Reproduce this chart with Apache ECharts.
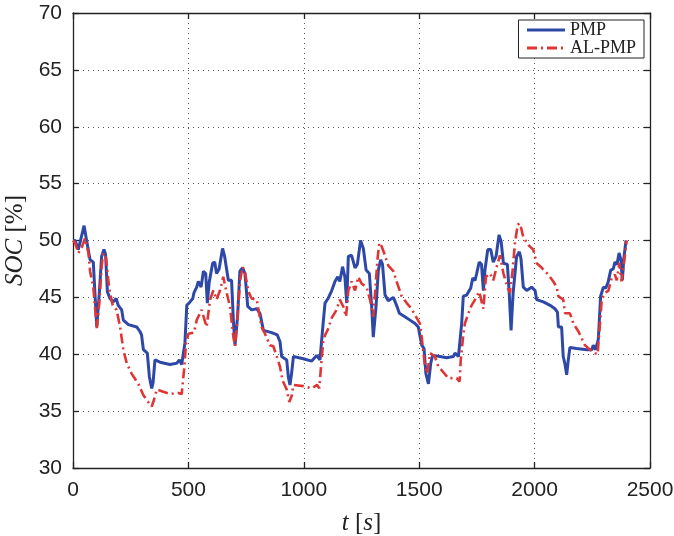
<!DOCTYPE html>
<html><head><meta charset="utf-8">
<script src="https://cdn.jsdelivr.net/npm/echarts@6/dist/echarts.min.js"></script>
<style>html,body{margin:0;padding:0;background:#fff}#c{width:674px;height:536px}</style>
</head><body><div id="c"></div>
<script>
const xTicks = [0, 500, 1000, 1500, 2000, 2500];
const yTicks = [30, 35, 40, 45, 50, 55, 60, 65, 70];
const seriesNames = ['PMP', 'AL-PMP'];
const pmpT = [0,9,23,48,59,74,88,95,103,114,124,134,141,149,160,175,187,196,211,218,240,276,290,297,305,322,331,341,347,355,377,420,449,461,471,485,493,507,519,524,536,543,555,565,575,582,590,605,614,622,633,648,657,673,687,695,702,713,723,735,745,757,774,796,810,825,861,885,897,904,926,933,940,947,955,998,1034,1056,1070,1085,1092,1105,1121,1135,1147,1156,1168,1178,1186,1193,1207,1222,1232,1246,1258,1270,1284,1294,1301,1313,1323,1333,1341,1352,1366,1388,1402,1414,1438,1460,1482,1496,1511,1521,1529,1540,1550,1558,1590,1619,1648,1655,1670,1684,1691,1706,1717,1723,1732,1742,1749,1760,1770,1778,1785,1797,1810,1821,1833,1846,1855,1865,1882,1890,1898,1907,1922,1934,1941,1951,1966,1987,2002,2009,2038,2067,2088,2099,2103,2117,2124,2131,2139,2146,2153,2182,2226,2248,2254,2264,2276,2286,2298,2308,2318,2330,2341,2348,2357,2366,2374,2380,2387,2396];
const pmpSoc = [50.0,50.0,49.2,51.3,50.0,48.3,48.1,45.4,42.4,45.4,48.6,49.2,48.8,45.5,44.9,44.6,44.9,44.3,43.9,43.0,42.6,42.4,42.0,41.7,40.4,40.1,38.0,37.0,37.5,39.5,39.3,39.1,39.2,39.5,39.1,41.0,44.3,44.6,44.9,45.4,45.9,46.4,45.9,47.3,47.1,44.5,46.3,48.0,48.1,47.1,47.5,49.3,48.6,46.5,46.5,42.9,40.8,43.3,47.3,47.6,47.1,44.2,43.9,44.0,43.6,42.1,41.9,41.7,41.1,39.8,39.5,38.0,37.3,38.3,39.8,39.6,39.4,39.9,39.5,43.0,44.5,44.9,45.6,46.4,46.8,46.4,47.7,46.8,44.5,48.6,48.7,47.6,47.9,50.0,49.3,47.4,47.1,44.2,41.5,44.2,47.4,48.3,47.9,45.2,44.7,45.0,44.3,43.6,43.3,43.0,42.7,42.4,40.8,40.5,38.3,37.4,39.2,39.9,39.8,39.7,39.8,40.1,39.8,42.7,45.1,45.2,45.6,45.8,46.7,46.5,47.1,48.1,47.9,45.6,47.4,49.2,49.2,48.1,48.6,50.5,49.9,48.0,47.9,45.4,42.1,45.4,48.6,49.0,48.4,45.9,45.6,45.9,45.6,44.8,44.6,44.3,44.0,43.7,42.4,42.4,39.8,39.2,38.2,39.5,40.6,40.5,40.4,40.4,40.8,40.4,41.3,45.1,45.9,45.8,46.3,47.4,47.5,48.1,47.9,48.9,48.3,46.5,48.5,50.0];
const alT = [0,9,23,38,52,67,74,88,103,114,124,131,143,153,160,172,189,204,218,233,254,283,305,326,341,351,363,391,420,456,471,481,490,500,524,536,557,579,594,608,622,637,651,666,680,695,702,712,724,735,745,760,774,796,817,832,853,868,883,897,908,926,937,947,955,998,1034,1058,1067,1077,1085,1095,1105,1121,1142,1156,1171,1183,1193,1207,1222,1236,1251,1272,1287,1301,1308,1319,1327,1337,1348,1366,1388,1402,1424,1446,1467,1489,1503,1511,1525,1535,1547,1568,1583,1597,1626,1662,1675,1680,1690,1698,1713,1727,1742,1760,1778,1789,1807,1821,1836,1850,1865,1882,1893,1905,1915,1927,1937,1951,1973,1994,2009,2031,2059,2081,2096,2103,2124,2132,2153,2168,2190,2204,2218,2240,2262,2273,2281,2291,2305,2320,2334,2348,2356,2367,2377,2387,2399];
const alSoc = [50.0,49.8,48.9,49.4,50.2,48.9,47.3,45.9,42.3,44.5,47.7,48.9,48.5,46.5,45.4,44.3,43.9,42.4,40.4,39.2,38.3,37.4,36.4,35.8,35.4,36.0,36.9,36.7,36.5,36.6,36.5,38.6,41.0,41.8,41.9,43.0,43.9,42.4,44.8,45.6,44.8,45.6,46.8,45.4,44.2,41.5,40.7,43.0,46.5,47.7,47.2,45.5,44.9,44.8,42.4,41.8,40.8,40.7,39.8,38.9,37.7,36.9,35.8,36.3,37.3,37.2,37.0,37.3,37.0,39.5,41.3,41.8,42.2,43.2,43.9,44.8,44.2,43.3,45.6,46.4,45.6,46.8,46.2,45.9,44.8,43.3,45.1,48.3,49.8,49.5,48.9,47.8,47.3,46.4,45.1,44.5,44.0,43.2,42.7,41.5,38.9,38.3,40.1,39.8,38.9,38.6,37.9,37.9,37.6,39.5,41.5,42.7,43.6,44.3,44.8,45.5,44.0,46.8,47.1,46.5,47.7,48.7,47.1,45.9,45.4,47.4,49.8,51.4,51.5,50.3,49.6,49.2,48.0,47.6,47.0,46.4,45.9,45.1,44.8,43.6,43.6,42.7,42.0,41.4,40.8,40.4,40.1,40.0,42.1,44.8,45.4,45.6,46.7,47.0,46.5,48.0,46.4,48.0,50.0];

const pmpData = pmpT.map((t, i) => [t, pmpSoc[i]]);
const alData = alT.map((t, i) => [t, alSoc[i]]);

const tickFont = { fontFamily: 'Liberation Sans, Arial, sans-serif', fontSize: 21, color: '#222' };
const dotted = { show: true, lineStyle: { type: [1, 4], color: '#555', width: 1 } };
const axisLine = { show: true, onZero: false, lineStyle: { color: '#222', width: 1.3 } };
const ticks = { show: true, inside: true, length: 6, lineStyle: { color: '#222', width: 1.3 } };
const titleStyle = { fontFamily: 'Liberation Serif, serif', fontSize: 25, color: '#222',
  rich: { i: { fontStyle: 'italic', fontFamily: 'Liberation Serif, serif', fontSize: 25, color: '#222' } } };

const chart = echarts.init(document.getElementById('c'), null, { renderer: 'canvas' });
chart.setOption({
  animation: false,
  backgroundColor: '#fff',
  grid: { left: 73, right: 24, top: 13, bottom: 68, containLabel: false, outerBoundsMode: 'none' },
  legend: {
    data: seriesNames,
    orient: 'vertical',
    right: 30, top: 20,
    backgroundColor: '#fff',
    borderColor: '#222', borderWidth: 1,
    padding: [1, 8, 1, 7],
    itemGap: 0,
    itemWidth: 38, itemHeight: 18,
    itemStyle: { opacity: 0 },
    lineStyle: { width: 3 },
    textStyle: { fontFamily: 'Liberation Serif, Times New Roman, serif', fontSize: 18, color: '#222', lineHeight: 18 }
  },
  xAxis: [
    { type: 'value', min: 0, max: 2500, interval: 500, position: 'bottom',
      axisLine, axisTick: ticks, splitLine: dotted,
      axisLabel: Object.assign({ margin: 12, formatter: v => xTicks.includes(v) ? String(v) : '' }, tickFont),
      name: '{i|t} [{i|s}]', nameLocation: 'middle', nameGap: 43, nameTextStyle: titleStyle },
    { type: 'value', min: 0, max: 2500, interval: 500, position: 'top',
      axisLine, axisTick: ticks, splitLine: { show: false }, axisLabel: { show: false } }
  ],
  yAxis: [
    { type: 'value', min: 30, max: 70, interval: 5, position: 'left',
      axisLine, axisTick: ticks, splitLine: dotted,
      axisLabel: Object.assign({ margin: 11, formatter: v => yTicks.includes(v) ? String(v) : '' }, tickFont),
      name: '{i|SOC} [%]', nameLocation: 'middle', nameGap: 40, nameRotate: 90, nameTextStyle: titleStyle },
    { type: 'value', min: 30, max: 70, interval: 5, position: 'right',
      axisLine, axisTick: ticks, splitLine: { show: false }, axisLabel: { show: false } }
  ],
  series: [
    { name: seriesNames[0], type: 'line', data: pmpData, symbol: 'none', z: 3,
      lineStyle: { color: '#2E48A8', width: 3 }, itemStyle: { color: '#2E48A8' } },
    { name: seriesNames[1], type: 'line', data: alData, symbol: 'none', z: 4,
      lineStyle: { color: '#E03535', width: 2.6, type: [10, 4, 2, 4] }, itemStyle: { color: '#E03535' } }
  ]
});
</script></body></html>
